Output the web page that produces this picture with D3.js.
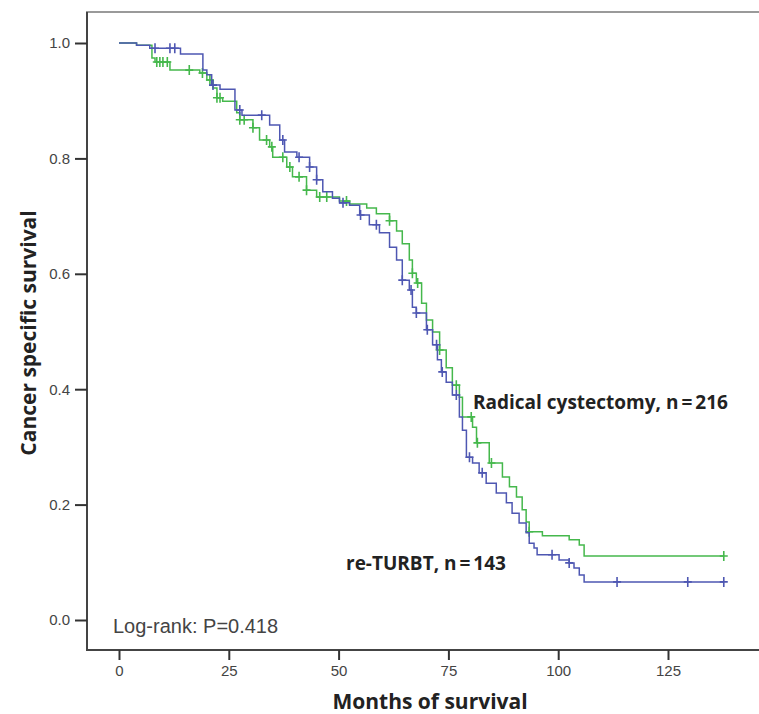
<!DOCTYPE html>
<html>
<head>
<meta charset="utf-8">
<script src="https://cdn.jsdelivr.net/npm/d3@7"></script>
<style>
  body { margin: 0; background: #fff; }
  svg { display: block; }
</style>
</head>
<body>
<div class="chart"></div>
<script>
// Kaplan-Meier steps (months, survival after the step)
const rcTimes = [0, 4, 7.5, 8.2, 11.6, 18.4, 20, 21.4, 22.3, 23.6, 26.8, 27.5, 30.5, 32, 34.3, 35, 38.2, 39.5, 42.7, 45,
  50.2, 52.5, 56.4, 58.6, 61.6, 63.2, 64.5, 66.1, 66.8, 67.7, 68.9, 70, 71.4, 73, 74.5, 75.9, 77.5, 78.2, 80.5, 81.4,
  84.3, 87.3, 88.9, 90.5, 91.8, 92.7, 93.4, 96.4, 102.5, 104.8, 105.9];
const rcSurv = [1, 0.996, 0.974, 0.967, 0.953, 0.948, 0.936, 0.922, 0.905, 0.899, 0.879, 0.867, 0.853, 0.832, 0.820, 0.802, 0.785, 0.768, 0.745, 0.733,
  0.726, 0.721, 0.714, 0.704, 0.692, 0.674, 0.652, 0.624, 0.601, 0.584, 0.549, 0.520, 0.499, 0.468, 0.437, 0.407, 0.386, 0.352, 0.334, 0.307,
  0.272, 0.248, 0.231, 0.213, 0.191, 0.170, 0.153, 0.146, 0.139, 0.130, 0.111];
const rcCensor = [8.6, 9.3, 10, 11, 16, 19, 20.7, 22.3, 23, 27.5, 28.5, 30.5, 33.6, 34.8, 37.3, 38.9, 41, 42.7, 45.7, 47.3,
  51.8, 61.6, 66.8, 68, 73, 76.8, 80.2, 81.6, 84.8, 93.4, 137.7];

const rtTimes = [0, 4, 7, 14, 19.1, 20, 21.1, 23, 26.4, 28, 34.3, 36.6, 37.7, 40.5, 43.4, 45, 46.4, 48.6, 50.2, 52.5, 54.8,
  57, 59.3, 61.6, 63.2, 64.5, 66.1, 66.8, 67.7, 70, 71.4, 72.5, 73.4, 74.5, 75.9, 77.5, 78.2, 79.1, 80.5, 82, 83.6,
  85.9, 88.2, 89.5, 91.1, 92.7, 93.4, 94.5, 95.2, 100.2, 102.5, 103.6, 104.8, 105.9];
const rtSurv = [1, 0.996, 0.991, 0.981, 0.953, 0.945, 0.927, 0.920, 0.884, 0.875, 0.858, 0.832, 0.811, 0.802, 0.785, 0.763, 0.742, 0.731, 0.723, 0.719, 0.702,
  0.685, 0.671, 0.646, 0.624, 0.589, 0.572, 0.542, 0.532, 0.503, 0.477, 0.451, 0.430, 0.412, 0.390, 0.352, 0.329, 0.282, 0.272, 0.255, 0.237,
  0.220, 0.203, 0.185, 0.168, 0.151, 0.133, 0.125, 0.113, 0.104, 0.099, 0.090, 0.078, 0.066];
const rtCensor = [8.2, 11.6, 12.7, 21.4, 27.5, 32.5, 37.3, 41, 43.4, 45, 51, 55, 58.6, 64.5, 66.5, 67.7, 70.2, 72.3, 73.6,
  76.8, 79.8, 82.7, 98.6, 102.5, 113.4, 129.5, 137.7];

const xTicks = [0, 25, 50, 75, 100, 125];
const yTicks = [0, 0.2, 0.4, 0.6, 0.8, 1.0];

const groups = [
  { label: ["Radical cystectomy, n", "=", "216"], times: rcTimes, surv: rcSurv, censor: rcCensor, color: "#45b84c", lx: 473, ly: 409 },
  { label: ["re-TURBT, n", "=", "143"], times: rtTimes, surv: rtSurv, censor: rtCensor, color: "#4e57b2", lx: 346, ly: 570 }
];

const W = 759, H = 714;
const svg = d3.select(".chart").append("svg").attr("width", W).attr("height", H);

const x = d3.scaleLinear().domain([0, 125]).range([119, 668]);
const y = d3.scaleLinear().domain([0, 1]).range([620, 43]);

// frame (right edge falls outside the picture)
svg.append("path")
  .attr("d", "M" + (W + 5) + ",12H87V650H" + (W + 5))
  .attr("fill", "none").attr("stroke", "#9a9a9a").attr("stroke-width", 2);
svg.append("path")
  .attr("d", "M87,12V650H" + (W + 5))
  .attr("fill", "none").attr("stroke", "#444").attr("stroke-width", 2);

const yAxis = svg.append("g").attr("transform", "translate(87,0)")
  .call(d3.axisLeft(y).tickValues(yTicks).tickFormat(d3.format(".1f")).tickSize(12).tickPadding(5));
const xAxis = svg.append("g").attr("transform", "translate(0,650)")
  .call(d3.axisBottom(x).tickValues(xTicks).tickSize(10).tickPadding(5));
[yAxis, xAxis].forEach(ax => {
  ax.select(".domain").remove();
  ax.selectAll(".tick line").attr("stroke", "#333").attr("stroke-width", 2);
  ax.selectAll(".tick text").attr("fill", "#444")
    .style("font-family", "'Liberation Sans', Arial, sans-serif").style("font-size", "15px");
});

const line = d3.line().x(d => x(d[0])).y(d => y(d[1])).curve(d3.curveStepAfter);

groups.forEach(g => {
  const end = d3.max(g.censor);
  const pts = g.times.map((t, i) => [t, g.surv[i]]);
  pts.push([end, g.surv[g.surv.length - 1]]);
  svg.append("path").datum(pts)
    .attr("fill", "none").attr("stroke", g.color).attr("stroke-width", 1.5)
    .attr("d", line);

  const survAt = t => g.surv[d3.bisectRight(g.times, t) - 1];
  svg.append("g").selectAll("path").data(g.censor).join("path")
    .attr("transform", t => `translate(${x(t)},${y(survAt(t))})`)
    .attr("d", "M-4,0H4M0,-5V5")
    .attr("stroke", g.color).attr("stroke-width", 1.6).attr("fill", "none");

  const txt = svg.append("text").attr("x", g.lx).attr("y", g.ly)
    .style("font-family", "'Open Sans', sans-serif").style("font-weight", "bold").style("font-size", "19px")
    .attr("fill", "#222");
  txt.selectAll("tspan").data(g.label).join("tspan")
    .attr("dx", (d, i) => i === 0 ? 0 : 3)
    .text(d => d);
});

svg.append("text").attr("x", 113).attr("y", 633)
  .style("font-family", "'Liberation Sans', Arial, sans-serif").style("font-size", "20px")
  .attr("fill", "#444").text("Log-rank: P=0.418");

svg.append("text").attr("x", 430).attr("y", 709).attr("text-anchor", "middle")
  .style("font-family", "'Open Sans', sans-serif").style("font-weight", "bold").style("font-size", "21px")
  .attr("fill", "#222").text("Months of survival");

svg.append("text").attr("transform", "translate(36,333) rotate(-90)").attr("text-anchor", "middle")
  .style("font-family", "'Open Sans', sans-serif").style("font-weight", "bold").style("font-size", "21px")
  .attr("fill", "#222").text("Cancer specific survival");
</script>
</body>
</html>
